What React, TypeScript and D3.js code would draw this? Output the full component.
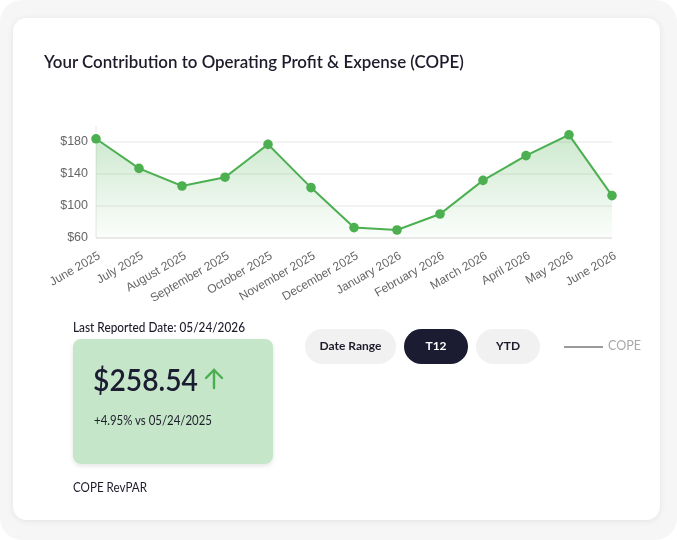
import React from 'react'
import * as d3 from 'd3'

const width = 677
const height = 540
const margin = { top: 126, right: 65, bottom: 302, left: 96 }

const months = [
    'June 2025',
    'July 2025',
    'August 2025',
    'September 2025',
    'October 2025',
    'November 2025',
    'December 2025',
    'January 2026',
    'February 2026',
    'March 2026',
    'April 2026',
    'May 2026',
    'June 2026',
]
const cope = [184, 147, 125, 136, 177, 123, 73, 70, 90, 132, 163, 189, 113]
const yTicks = [60, 100, 140, 180]
const ranges = ['Date Range', 'T12', 'YTD']
const activeRange = 'T12'

const green = '#4caf50'
const navy = '#1b1b32'
const uiFont = '"Source Sans Pro", Lato, "Noto Sans", sans-serif'
const axisFont = '"Liberation Sans", Arial, sans-serif'

const x = d3
    .scalePoint()
    .domain(months)
    .range([margin.left, width - margin.right])
const y = d3
    .scaleLinear()
    .domain([60, 200])
    .range([height - margin.bottom, margin.top])

const line = d3
    .line()
    .x((d, i) => x(months[i]))
    .y((d) => y(d))
const area = d3
    .area()
    .x((d, i) => x(months[i]))
    .y0(y(60))
    .y1((d) => y(d))

// pill geometry for the range switcher
const pillX = [305, 404, 476]
const pillW = [91, 64, 64]

export default function App() {
    return (
        <svg
            width={width}
            height={height}
            style={{ position: 'fixed', top: 0, left: 0 }}
        >
            <defs>
                <linearGradient id="copeFill" x1="0" y1="0" x2="0" y2="1">
                    <stop offset="0%" stopColor={green} stopOpacity={0.28} />
                    <stop offset="100%" stopColor={green} stopOpacity={0.02} />
                </linearGradient>
                <filter id="cardShadow" x="-10%" y="-10%" width="120%" height="120%">
                    <feDropShadow dx="0" dy="1" stdDeviation="3" floodColor="#000" floodOpacity="0.08" />
                </filter>
                <filter id="tileShadow" x="-10%" y="-10%" width="120%" height="130%">
                    <feDropShadow dx="0" dy="2" stdDeviation="2" floodColor="#000" floodOpacity="0.1" />
                </filter>
            </defs>

            {/* page frame and card */}
            <rect x={0} y={0} width={width} height={height} rx={22} fill="#f6f6f6" />
            <rect
                x={13}
                y={18}
                width={647}
                height={502}
                rx={14}
                fill="#fff"
                filter="url(#cardShadow)"
            />

            <text
                x={44}
                y={68}
                fontFamily={uiFont}
                fontSize={16.9}
                fontWeight={600}
                fill="#1c1c2b"
            >
                Your Contribution to Operating Profit &amp; Expense (COPE)
            </text>

            {/* grid */}
            <g>
                {yTicks.slice(1).map((t) => (
                    <line
                        key={t}
                        x1={margin.left}
                        x2={width - margin.right}
                        y1={y(t)}
                        y2={y(t)}
                        stroke="#e6e6e6"
                        strokeWidth={1}
                    />
                ))}
                <line
                    x1={margin.left}
                    x2={margin.left}
                    y1={margin.top}
                    y2={y(60)}
                    stroke="#e6e6e6"
                />
                <line
                    x1={margin.left}
                    x2={width - margin.right}
                    y1={y(60)}
                    y2={y(60)}
                    stroke="#d4d4d4"
                />
            </g>

            {/* y labels */}
            <g fontFamily={axisFont} fontSize={12.5} fill="#666">
                {yTicks.map((t) => (
                    <text
                        key={t}
                        x={margin.left - 8}
                        y={y(t)}
                        textAnchor="end"
                        dominantBaseline="middle"
                    >
                        {'$' + t}
                    </text>
                ))}
            </g>

            {/* x labels */}
            <g fontFamily={axisFont} fontSize={12} fill="#666">
                {months.map((m) => (
                    <text
                        key={m}
                        transform={`translate(${x(m) + 5},${y(60) + 20}) rotate(-30)`}
                        textAnchor="end"
                    >
                        {m}
                    </text>
                ))}
            </g>

            <path d={area(cope)} fill="url(#copeFill)" />
            <path d={line(cope)} fill="none" stroke={green} strokeWidth={2} />
            {cope.map((v, i) => (
                <circle key={i} cx={x(months[i])} cy={y(v)} r={4.8} fill={green} />
            ))}

            {/* summary tile */}
            <text
                x={73}
                y={332}
                fontFamily={uiFont}
                fontSize={13}
                fontWeight={500}
                fill="#1c1c2b"
                textLength={172}
                lengthAdjust="spacingAndGlyphs"
            >
                Last Reported Date: 05/24/2026
            </text>
            <rect
                x={73}
                y={339}
                width={200}
                height={125}
                rx={8}
                fill="#c5e6c9"
                filter="url(#tileShadow)"
            />
            <text
                x={93}
                y={391}
                fontFamily={uiFont}
                fontSize={30}
                fontWeight={600}
                fill={navy}
                textLength={105}
                lengthAdjust="spacingAndGlyphs"
            >
                $258.54
            </text>
            <g stroke={green} strokeWidth={2.4} fill="none" strokeLinecap="round">
                <line x1={214} y1={388} x2={214} y2={370} />
                <polyline points="206,378 214,370 222,378" />
            </g>
            <text
                x={94}
                y={425}
                fontFamily={uiFont}
                fontSize={12.5}
                fill="#1c1c2b"
                textLength={118}
                lengthAdjust="spacingAndGlyphs"
            >
                +4.95% vs 05/24/2025
            </text>
            <text
                x={73}
                y={492}
                fontFamily={uiFont}
                fontSize={13}
                fill="#1c1c2b"
                textLength={74}
                lengthAdjust="spacingAndGlyphs"
            >
                COPE RevPAR
            </text>

            {/* range buttons */}
            {ranges.map((r, i) => {
                const on = r === activeRange
                return (
                    <g key={r}>
                        <rect
                            x={pillX[i]}
                            y={329}
                            width={pillW[i]}
                            height={35}
                            rx={17.5}
                            fill={on ? navy : '#f1f1f1'}
                        />
                        <text
                            x={pillX[i] + pillW[i] / 2}
                            y={347}
                            textAnchor="middle"
                            dominantBaseline="middle"
                            fontFamily={uiFont}
                            fontSize={12}
                            fontWeight={700}
                            fill={on ? '#fff' : '#1c1c2b'}
                        >
                            {r}
                        </text>
                    </g>
                )
            })}

            {/* legend */}
            <line x1={564} x2={603} y1={347} y2={347} stroke="#9a9a9a" strokeWidth={2} />
            <text
                x={608}
                y={347}
                dominantBaseline="middle"
                fontFamily={uiFont}
                fontSize={12.5}
                fill="#a8a8a8"
            >
                COPE
            </text>
        </svg>
    )
}
